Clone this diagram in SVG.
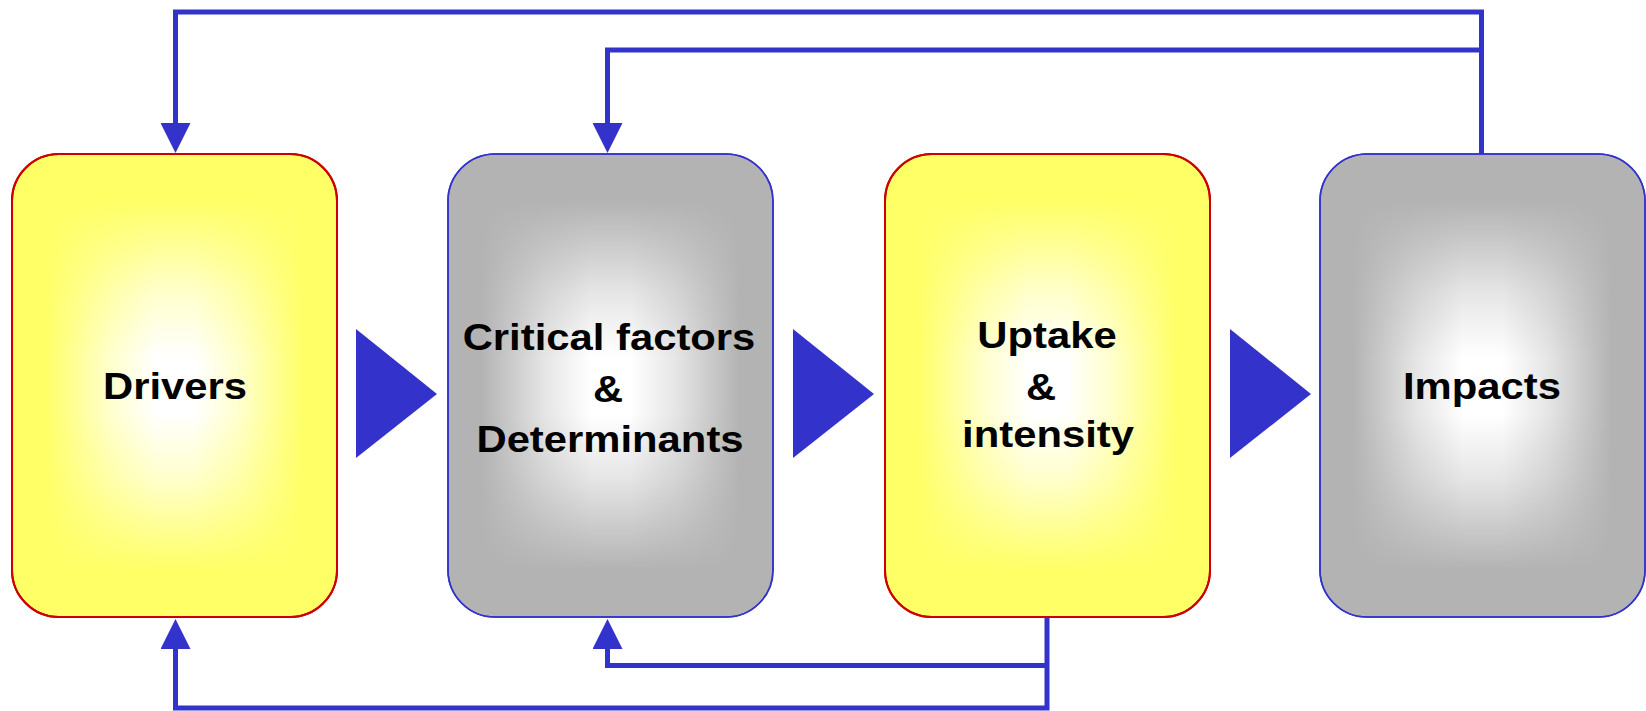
<svg xmlns="http://www.w3.org/2000/svg" width="1646" height="711" viewBox="0 0 1646 711">
<style>
.lbl{font-family:"Liberation Sans",Arial,sans-serif;font-weight:bold;font-size:37.5px;fill:#000;text-anchor:middle}
.conn{fill:none;stroke:#3333CC;stroke-width:5;stroke-linejoin:miter}
.flow{fill:#3333CC}
.yel{fill:#FFFF66;stroke:#CC0000;stroke-width:2}
.gry{fill:#B3B3B3;stroke:#3333CC;stroke-width:1.6}
.glow{fill:#FFFFFF;stroke:none}
</style>
<defs>
<linearGradient id="gH" x1="0" y1="0" x2="1" y2="0">
<stop offset="0" stop-color="#000"/><stop offset="0.1" stop-color="#000"/><stop offset="0.3" stop-color="#aaa"/><stop offset="0.44" stop-color="#fff"/><stop offset="0.56" stop-color="#fff"/><stop offset="0.7" stop-color="#aaa"/><stop offset="0.9" stop-color="#000"/><stop offset="1" stop-color="#000"/>
</linearGradient>
<linearGradient id="gV" x1="0" y1="0" x2="0" y2="1">
<stop offset="0" stop-color="#000"/><stop offset="0.1" stop-color="#000"/><stop offset="0.3" stop-color="#aaa"/><stop offset="0.44" stop-color="#fff"/><stop offset="0.56" stop-color="#fff"/><stop offset="0.7" stop-color="#aaa"/><stop offset="0.9" stop-color="#000"/><stop offset="1" stop-color="#000"/>
</linearGradient>
<mask id="mH" maskUnits="userSpaceOnUse" x="-5" y="-5" width="335" height="473"><rect x="0" y="0" width="325" height="463" fill="url(#gH)"/></mask>
<mask id="mV" maskUnits="userSpaceOnUse" x="-5" y="-5" width="335" height="473"><rect x="0" y="0" width="325" height="463" fill="url(#gV)"/></mask>
<marker id="ah" markerUnits="userSpaceOnUse" markerWidth="30" markerHeight="30" viewBox="0 0 30 30" refX="0" refY="15" orient="auto">
<path d="M0,0 L30,15 L0,30 Z" fill="#3333CC"/>
</marker>
</defs>

<g id="connectors">
<path class="conn" d="M1481.5,154 V12 H175.5 V123" marker-end="url(#ah)"/>
<path class="conn" d="M1481.5,50 H607.5 V123" marker-end="url(#ah)"/>
<path class="conn" d="M1047,617 V708 H175.5 V649" marker-end="url(#ah)"/>
<path class="conn" d="M1047,665.5 H607.5 V649" marker-end="url(#ah)"/>
<polygon class="flow" points="356,329 437,394 356,458"/>
<polygon class="flow" points="793,329 874,394 793,458"/>
<polygon class="flow" points="1230,329 1311,394 1230,458"/>
</g>

<g id="drivers" transform="translate(12,154)">
<rect class="yel" x="0" y="0" width="325" height="463" rx="47" ry="47"/>
<g mask="url(#mV)"><rect class="glow" x="0" y="0" width="325" height="463" rx="47" ry="47" mask="url(#mH)"/></g>
<rect x="0" y="0" width="325" height="463" rx="47" ry="47" fill="none" stroke="#CC0000" stroke-width="2"/>
<text class="lbl" transform="translate(163,245) scale(1.115,1)" x="0" y="0">Drivers</text>
</g>

<g id="critical-factors" transform="translate(448,154)">
<rect class="gry" x="0" y="0" width="325" height="463" rx="47" ry="47"/>
<g mask="url(#mV)"><rect class="glow" x="0" y="0" width="325" height="463" rx="47" ry="47" mask="url(#mH)"/></g>
<rect x="0" y="0" width="325" height="463" rx="47" ry="47" fill="none" stroke="#3333CC" stroke-width="1.6"/>
<text class="lbl" transform="translate(161,196) scale(1.115,1)" x="0" y="0">Critical factors</text>
<text class="lbl" transform="translate(160,248) scale(1.115,1)" x="0" y="0">&amp;</text>
<text class="lbl" transform="translate(162,298) scale(1.115,1)" x="0" y="0">Determinants</text>
</g>

<g id="uptake" transform="translate(885,154)">
<rect class="yel" x="0" y="0" width="325" height="463" rx="47" ry="47"/>
<g mask="url(#mV)"><rect class="glow" x="0" y="0" width="325" height="463" rx="47" ry="47" mask="url(#mH)"/></g>
<rect x="0" y="0" width="325" height="463" rx="47" ry="47" fill="none" stroke="#CC0000" stroke-width="2"/>
<text class="lbl" transform="translate(162,194) scale(1.115,1)" x="0" y="0">Uptake</text>
<text class="lbl" transform="translate(156,246) scale(1.115,1)" x="0" y="0">&amp;</text>
<text class="lbl" transform="translate(163,293) scale(1.115,1)" x="0" y="0">intensity</text>
</g>

<g id="impacts" transform="translate(1320,154)">
<rect class="gry" x="0" y="0" width="325" height="463" rx="47" ry="47"/>
<g mask="url(#mV)"><rect class="glow" x="0" y="0" width="325" height="463" rx="47" ry="47" mask="url(#mH)"/></g>
<rect x="0" y="0" width="325" height="463" rx="47" ry="47" fill="none" stroke="#3333CC" stroke-width="1.6"/>
<text class="lbl" transform="translate(162,245) scale(1.115,1)" x="0" y="0">Impacts</text>
</g>
</svg>
